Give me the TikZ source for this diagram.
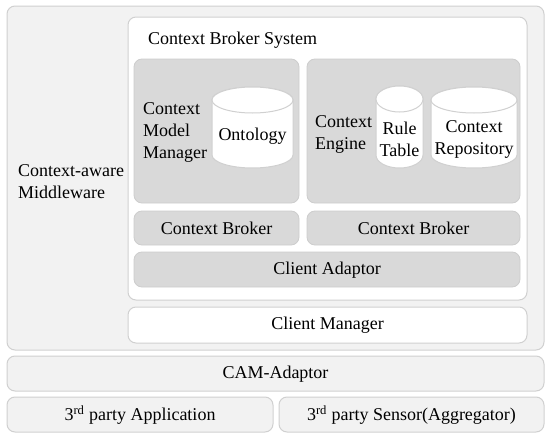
\documentclass[tikz,border=0pt]{standalone}
\usepackage{fontspec}
\setmainfont{Liberation Serif}
\definecolor{outerfill}{HTML}{F2F2F2}
\definecolor{boxline}{HTML}{D0D0D0}
\definecolor{panelfill}{HTML}{D9D9D9}
\definecolor{panelline}{HTML}{CDCDCD}
\begin{document}
\begin{tikzpicture}[x=1pt,y=-1pt,
  every node/.style={font=\fontsize{18}{22}\selectfont, inner sep=0pt},
  lightbox/.style={draw=boxline, fill=outerfill, rounded corners=8pt, line width=1pt},
  whitebox/.style={draw=boxline, fill=white, rounded corners=8pt, line width=1pt},
  graybox/.style={draw=panelline, fill=panelfill, rounded corners=8pt, line width=0.8pt},
  cyl/.style={draw=boxline, fill=white, line width=1pt}
]
\useasboundingbox (0,0) rectangle (550,439);
% outer
\draw[lightbox] (7,6) rectangle (544,350);
\node[anchor=west, align=left] (cam) at (18,182) {Context-aware\\Middleware};
% broker system
\draw[whitebox] (128,17) rectangle (527,300);
\node[anchor=west] (cbs) at (148,40) {Context Broker System};
% panels
\draw[graybox] (134,59) rectangle (299,203);
\draw[graybox] (307,59) rectangle (520,203);
\node[anchor=west, align=left] (cmm) at (143,132) {Context\\Model\\Manager};
\node[anchor=west, align=left] (ce) at (315,134) {Context\\Engine};
% cylinders
\newcommand{\mycyl}[5]{% x1 x2 ytop ybot ry
  \pgfmathsetmacro{\rx}{(#2-#1)/2}
  \pgfmathsetmacro{\cx}{(#1+#2)/2}
  \draw[cyl] (#1,#3+#5) -- (#1,#4-#5) arc[start angle=180, end angle=0, x radius=\rx, y radius=#5] -- (#2,#3+#5) arc[start angle=0, end angle=-180, x radius=\rx, y radius=#5] -- cycle;
  \draw[cyl] (\cx,#3+#5) ellipse[x radius=\rx, y radius=#5];
}
\mycyl{212}{293}{87}{168}{13}
\node (onto) at (252.5,136) {Ontology};
\mycyl{376}{423}{86}{168}{13}
\node[align=center] (rule) at (399.5,139) {Rule\\Table};
\mycyl{431}{517}{87}{168}{13}
\node[align=center] (repo) at (474,139) {Context\\Repository};
% brokers
\draw[graybox] (134,211) rectangle (299,245);
\node (cb1) at (216.5,228.5) {Context Broker};
\draw[graybox] (307,211) rectangle (520,245);
\node (cb2) at (413.5,228.5) {Context Broker};
\draw[graybox] (134,252) rectangle (520,287);
\node (ca) at (327,270) {Client Adaptor};
% client manager
\draw[whitebox] (128,307) rectangle (527,343);
\node (cm) at (327.5,325.5) {Client Manager};
% CAM adaptor
\draw[lightbox] (7,356) rectangle (544,391);
\node (camad) at (275.5,374) {CAM-Adaptor};
\draw[lightbox] (7,397) rectangle (273,432);
\node (app) at (140,415) {3\textsuperscript{rd} party Application};
\draw[lightbox] (279,397) rectangle (544,432);
\node (sens) at (411.5,415) {3\textsuperscript{rd} party Sensor(Aggregator)};
\end{tikzpicture}
\end{document}
